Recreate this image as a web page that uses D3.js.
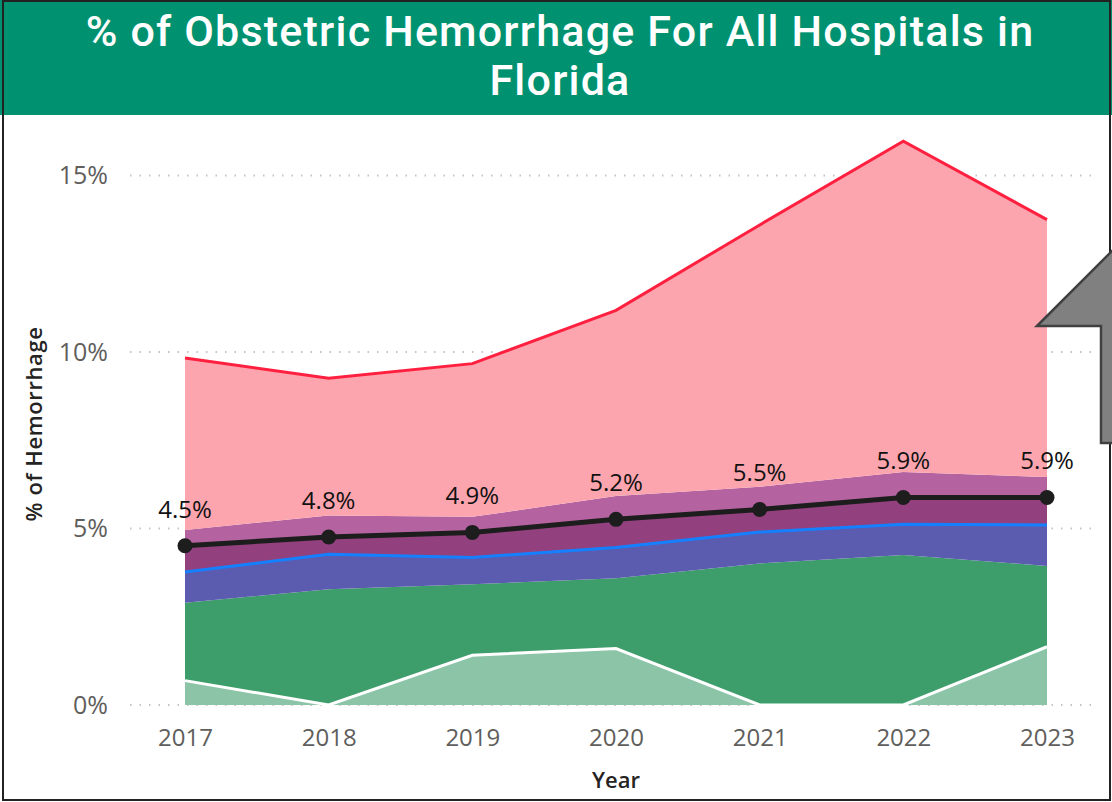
<!DOCTYPE html>
<html>
<head>
<meta charset="utf-8">
<script src="https://cdn.jsdelivr.net/npm/d3@7"></script>
<style>
  body { margin: 0; background: #fff; }
  svg { display: block; }
</style>
</head>
<body>
<svg id="chart1"></svg>
<script>
let w = 1112;
let h = 802;

// values (% of hemorrhage)
let years = [2017, 2018, 2019, 2020, 2021, 2022, 2023];
let maxRate = [9.83, 9.26, 9.67, 11.18, 13.6, 15.97, 13.75];
let upperRate = [4.96, 5.37, 5.33, 5.92, 6.18, 6.6, 6.46];
let avgRate = [4.51, 4.76, 4.89, 5.26, 5.54, 5.88, 5.88];
let medianRate = [3.77, 4.27, 4.18, 4.46, 4.9, 5.12, 5.1];
let lowerRate = [2.9, 3.28, 3.42, 3.59, 4.01, 4.25, 3.94];
let minRate = [0.69, 0, 1.41, 1.6, 0, 0, 1.65];
let avgLabels = ['4.5%', '4.8%', '4.9%', '5.2%', '5.5%', '5.9%', '5.9%'];
let yTicks = [0, 5, 10, 15];

let svg, xScale, yScale;

function initGraph() {
  svg = d3.select('#chart1')
    .attr('width', w)
    .attr('height', h);

  xScale = d3.scaleLinear()
    .domain([2017, 2023])
    .range([185, 1047]);

  yScale = d3.scaleLinear()
    .domain([0, 15])
    .range([705, 175.5]);

  // title banner
  svg.append('rect')
    .attr('x', 0).attr('y', 0)
    .attr('width', w).attr('height', 115)
    .attr('fill', '#009270');

  let title = svg.append('text')
    .attr('text-anchor', 'middle')
    .attr('fill', '#fff')
    .style('font-family', 'Roboto, sans-serif')
    .style('font-weight', 500)
    .style('font-size', '43px')
    .style('letter-spacing', '1.2px');
  title.append('tspan').attr('x', 560).attr('y', 46).text('% of Obstetric Hemorrhage For All Hospitals in');
  title.append('tspan').attr('x', 560).attr('y', 95).text('Florida');

  // dotted gridlines
  svg.append('g')
    .selectAll('line')
    .data(yTicks)
    .enter()
    .append('line')
    .attr('x1', 130).attr('x2', 1096)
    .attr('y1', d => yScale(d)).attr('y2', d => yScale(d))
    .attr('stroke', '#c4c4c4')
    .attr('stroke-width', 2)
    .attr('stroke-dasharray', '1.5,8');

  let idx = d3.range(years.length);

  let band = (lo, hi) => d3.area()
    .x(i => xScale(years[i]))
    .y0(i => yScale(lo[i]))
    .y1(i => yScale(hi[i]));

  let zeros = years.map(() => 0);
  let bands = [
    [zeros, minRate, '#8bc4a6'],
    [minRate, lowerRate, '#3e9e6b'],
    [lowerRate, medianRate, '#5b5bb0'],
    [medianRate, avgRate, '#93407e'],
    [avgRate, upperRate, '#b563a0'],
    [upperRate, maxRate, '#fda5ae']
  ];

  svg.append('g')
    .selectAll('path')
    .data(bands)
    .enter()
    .append('path')
    .attr('d', d => band(d[0], d[1])(idx))
    .attr('fill', d => d[2]);

  let line = arr => d3.line()
    .x(i => xScale(years[i]))
    .y(i => yScale(arr[i]));

  svg.append('path')
    .attr('d', line(minRate)(idx))
    .attr('fill', 'none')
    .attr('stroke', '#fff')
    .attr('stroke-width', 3);

  svg.append('path')
    .attr('d', line(medianRate)(idx))
    .attr('fill', 'none')
    .attr('stroke', '#1580ff')
    .attr('stroke-width', 3);

  svg.append('path')
    .attr('d', line(maxRate)(idx))
    .attr('fill', 'none')
    .attr('stroke', '#ff2040')
    .attr('stroke-width', 3);

  svg.append('path')
    .attr('d', line(avgRate)(idx))
    .attr('fill', 'none')
    .attr('stroke', '#1d1d1d')
    .attr('stroke-width', 5);

  svg.append('g')
    .selectAll('circle')
    .data(idx)
    .enter()
    .append('circle')
    .attr('cx', i => xScale(years[i]))
    .attr('cy', i => yScale(avgRate[i]))
    .attr('r', 7.5)
    .attr('fill', '#1d1d1d');

  svg.append('g')
    .selectAll('text')
    .data(idx)
    .enter()
    .append('text')
    .attr('x', i => xScale(years[i]))
    .attr('y', i => yScale(avgRate[i]) - 28)
    .attr('text-anchor', 'middle')
    .attr('fill', '#111')
    .style('font-family', '"Open Sans", sans-serif')
    .style('font-size', '24px')
    .text(i => avgLabels[i]);

  // axes
  let xAxis = d3.axisBottom(xScale)
    .tickValues(years)
    .tickFormat(d3.format('d'))
    .tickSize(0)
    .tickPadding(0);

  let xAxisGroup = svg.append('g')
    .attr('transform', 'translate(0, 729)')
    .call(xAxis);
  xAxisGroup.select('.domain').remove();
  xAxisGroup.selectAll('text')
    .attr('fill', '#605e5c')
    .style('font-family', '"Open Sans", sans-serif')
    .style('font-size', '24px');

  let yAxis = d3.axisLeft(yScale)
    .tickValues(yTicks)
    .tickFormat(d => d + '%')
    .tickSize(0)
    .tickPadding(0);

  let yAxisGroup = svg.append('g')
    .attr('transform', 'translate(108, 0)')
    .call(yAxis);
  yAxisGroup.select('.domain').remove();
  yAxisGroup.selectAll('text')
    .attr('fill', '#605e5c')
    .style('font-family', '"Open Sans", sans-serif')
    .style('font-size', '25px');

  svg.append('text')
    .attr('x', 616).attr('y', 788)
    .attr('text-anchor', 'middle')
    .attr('fill', '#252423')
    .style('font-family', '"Open Sans", sans-serif')
    .style('font-weight', 600)
    .style('font-size', '22px')
    .text('Year');

  svg.append('text')
    .attr('transform', 'translate(42, 424) rotate(-90)')
    .attr('text-anchor', 'middle')
    .attr('fill', '#252423')
    .style('font-family', '"Open Sans", sans-serif')
    .style('font-weight', 600)
    .style('font-size', '22px')
    .style('letter-spacing', '0.6px')
    .text('% of Hemorrhage');

  // outer frame
  svg.append('rect')
    .attr('x', 3).attr('y', 1)
    .attr('width', 1107).attr('height', 799)
    .attr('fill', 'none')
    .attr('stroke', '#222')
    .attr('stroke-width', 2);

  // grey arrow shape on the right edge
  svg.append('path')
    .attr('d', 'M1037,326 L1115,248 L1115,443 L1101,443 L1101,326 Z')
    .attr('fill', '#808080')
    .attr('stroke', '#404040')
    .attr('stroke-width', 2.5);
}

window.onload = initGraph;
</script>
</body>
</html>
